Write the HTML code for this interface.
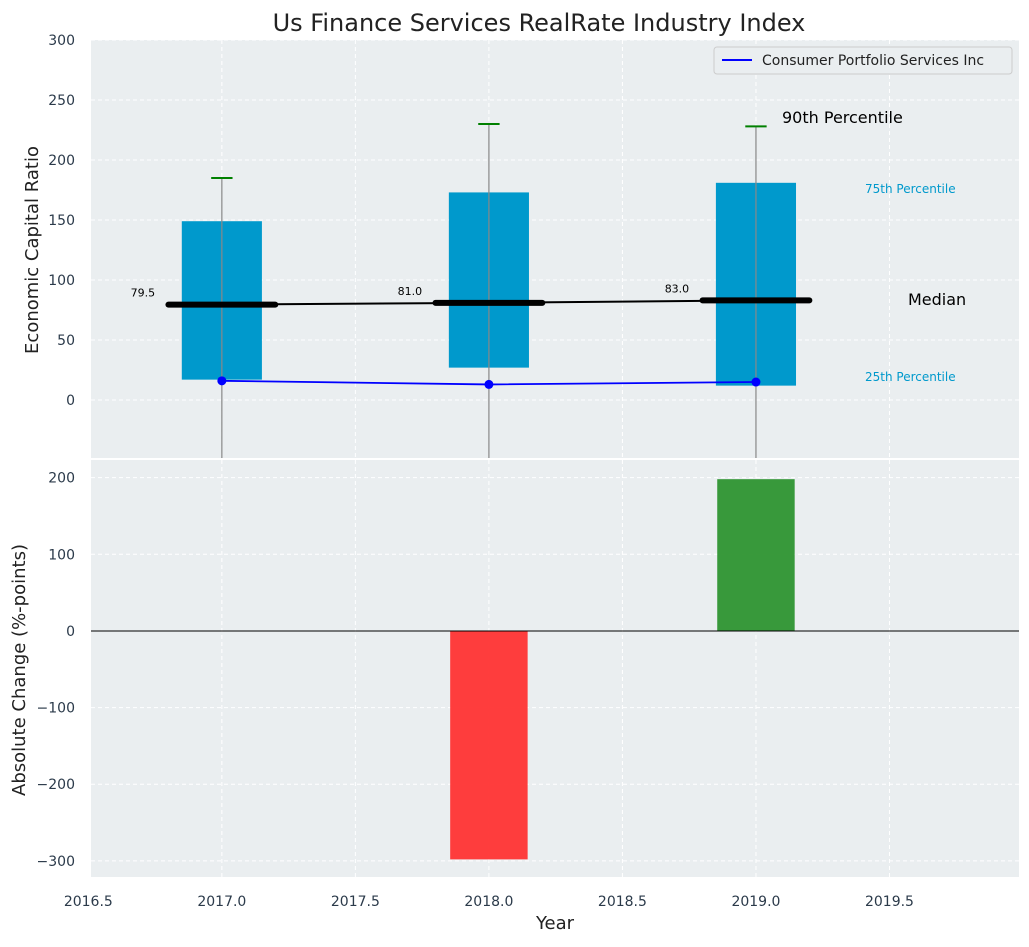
<!DOCTYPE html>
<html><head><meta charset="utf-8"><style>
body{margin:0;background:#fff;font-family:"Liberation Sans","DejaVu Sans",sans-serif}
</style></head><body>
<svg id="chart" width="1029" height="942" xmlns="http://www.w3.org/2000/svg" font-family="DejaVu Sans, Liberation Sans, sans-serif"></svg>
<script>
const years=[2017,2018,2019];
const p25=[17,27,12];
const p75=[149,173,181];
const p90=[185,230,228];
const medians=[79.5,81.0,83.0];
const company=[16,13,15];
const changes=[0,-298,198];
const xTicks=[2016.5,2017.0,2017.5,2018.0,2018.5,2019.0,2019.5];
const yTopTicks=[0,50,100,150,200,250,300];
const yBotTicks=[-300,-200,-100,0,100,200];

const svg=document.getElementById('chart');
const NS='http://www.w3.org/2000/svg';
function el(t,a,p){const e=document.createElementNS(NS,t);for(const k in a)e.setAttribute(k,a[k]);(p||svg).appendChild(e);return e;}
const L=91,R=1019;
const x=v=>L+(v-2016.51)/(2019.985-2016.51)*(R-L);
const T0=40,T1=458,yt=v=>T1-(v+48.3)/(300+48.3)*(T1-T0);
const B0=460,B1=877,yb=v=>B0+(223-v)/(223+321)*(B1-B0);

// backgrounds
let e=el('rect',{x:L,y:T0,width:R-L,height:T1-T0,fill:'#eaeef0'});

e=el('rect',{x:L,y:B0,width:R-L,height:B1-B0,fill:'#eaeef0'});


// grids
xTicks.forEach(v=>{
 el('line',{x1:x(v),x2:x(v),y1:T0,y2:T1,stroke:'#fff','stroke-dasharray':'4,3','stroke-width':1});
 el('line',{x1:x(v),x2:x(v),y1:B0,y2:B1,stroke:'#fff','stroke-dasharray':'4,3','stroke-width':1});
 const t=el('text',{x:x(v),y:B1+29,'text-anchor':'middle','font-size':14,fill:'#2b3a4a'});t.textContent=v.toFixed(1);
 
});
yTopTicks.forEach(v=>{
 el('line',{x1:L,x2:R,y1:yt(v),y2:yt(v),stroke:'#fff','stroke-dasharray':'4,3'});
 const t=el('text',{x:75,y:yt(v)+5,'text-anchor':'end','font-size':14,fill:'#2b3a4a'});t.textContent=v;
 
});
yBotTicks.forEach(v=>{
 el('line',{x1:L,x2:R,y1:yb(v),y2:yb(v),stroke:'#fff','stroke-dasharray':'4,3'});
 const t=el('text',{x:75,y:yb(v)+5,'text-anchor':'end','font-size':14,fill:'#2b3a4a'});t.textContent=(v<0?'\u2212'+(-v):v);
 
});

// boxes
years.forEach((yr,i)=>{
 let r=el('rect',{x:x(yr-0.15),y:yt(p75[i]),width:x(yr+0.15)-x(yr-0.15),height:yt(p25[i])-yt(p75[i]),fill:'#0099cc'});
 
 let w=el('line',{x1:x(yr),x2:x(yr),y1:T1,y2:yt(p90[i]),stroke:'#888','stroke-width':1.2});
 
 let c=el('line',{x1:x(yr-0.04),x2:x(yr+0.04),y1:yt(p90[i]),y2:yt(p90[i]),stroke:'green','stroke-width':2});
 
});
// median line
let mp=el('polyline',{points:years.map((yr,i)=>x(yr)+','+yt(medians[i])).join(' '),fill:'none',stroke:'#000','stroke-width':2});

years.forEach((yr,i)=>{
 let m=el('line',{x1:x(yr-0.2),x2:x(yr+0.2),y1:yt(medians[i]),y2:yt(medians[i]),stroke:'#000','stroke-width':6,'stroke-linecap':'round'});
 
 let t=el('text',{x:x(yr-0.25),y:yt(medians[i])-8,'text-anchor':'end','font-size':11,fill:'#000'});t.textContent=medians[i].toFixed(1);
 
});
// company line
let cl=el('polyline',{points:years.map((yr,i)=>x(yr)+','+yt(company[i])).join(' '),fill:'none',stroke:'blue','stroke-width':1.8});

years.forEach((yr,i)=>{let p=el('circle',{cx:x(yr),cy:yt(company[i]),r:4.5,fill:'blue'});
 });

// annotations
function txt(s,xx,yy,size,fill,name){const t=el('text',{x:xx,y:yy,'font-size':size,fill:fill});t.textContent=s;}
txt('90th Percentile',782,123,16,'#000','p90-annotation');
txt('75th Percentile',865,193,12,'#0099cc','p75-annotation');
txt('Median',908,305,16,'#000','median-annotation');
txt('25th Percentile',865,381,12,'#0099cc','p25-annotation');

// legend
let lg=el('g',{});
el('rect',{x:714,y:47,width:298,height:27,rx:3,fill:'#eaeef0',stroke:'#ccc'},lg);
el('line',{x1:722,x2:752,y1:60,y2:60,stroke:'blue','stroke-width':2},lg);
let lt=el('text',{x:762,y:65,'font-size':14,fill:'#222'},lg);lt.textContent='Consumer Portfolio Services Inc';

// bars
years.forEach((yr,i)=>{
 if(!changes[i])return;
 const v=changes[i];
 let b=el('rect',{x:x(yr-0.145),y:Math.min(yb(v),yb(0)),width:x(yr+0.145)-x(yr-0.145),height:Math.abs(yb(v)-yb(0)),fill:v<0?'#ff3333':'#2e9430','fill-opacity':0.95});
 
});
el('line',{x1:L,x2:R,y1:yb(0),y2:yb(0),stroke:'#000','stroke-width':1});

// titles
txt('Us Finance Services RealRate Industry Index',0,0,0,'#000','x');
svg.lastChild.remove();
let ti=el('text',{x:539,y:31,'text-anchor':'middle','font-size':24,fill:'#222'});ti.textContent='Us Finance Services RealRate Industry Index';

let xl=el('text',{x:555,y:929,'text-anchor':'middle','font-size':18,fill:'#222'});xl.textContent='Year';

let y1=el('text',{x:0,y:0,'text-anchor':'middle','font-size':18,fill:'#222',transform:'translate(38,250) rotate(-90)'});y1.textContent='Economic Capital Ratio';

let y2=el('text',{x:0,y:0,'text-anchor':'middle','font-size':18,fill:'#222',transform:'translate(25,670) rotate(-90)'});y2.textContent='Absolute Change (%-points)';

</script>
</body></html>
